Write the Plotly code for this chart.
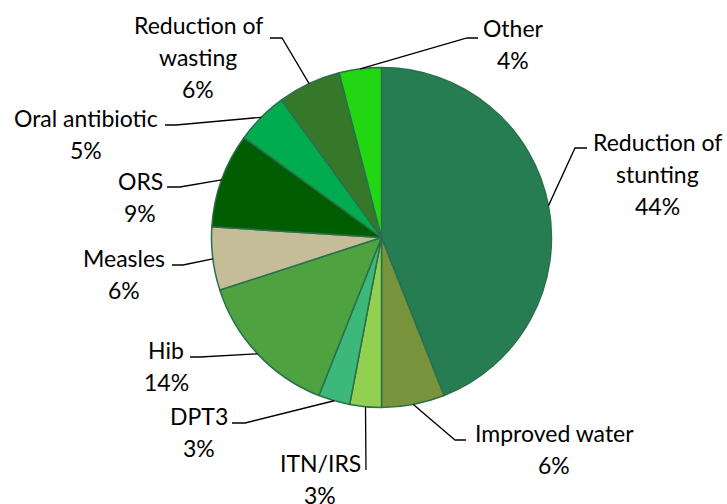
import math
import plotly.graph_objects as go

# Share of deaths averted by intervention (%)
categories = ["Reduction of stunting", "Improved water", "ITN/IRS", "DPT3", "Hib",
              "Measles", "ORS", "Oral antibiotic", "Reduction of wasting", "Other"]
values = [44, 6, 3, 3, 14, 6, 9, 5, 6, 4]
label_lines = [["Reduction of", "stunting"], ["Improved water"], ["ITN/IRS"], ["DPT3"], ["Hib"],
               ["Measles"], ["ORS"], ["Oral antibiotic"], ["Reduction of", "wasting"], ["Other"]]
colors = ["#267D52", "#77933C", "#92D050", "#3CB97A", "#4EA23F",
          "#C4BD97", "#005E00", "#00AC4E", "#36782A", "#22D711"]

W, H = 727, 504
CX, CY, R = 381.5, 237.5, 170.0

# Label placement (pixels): text centre x, first-line centre y, leader elbow, leader end
label_layout = {
    "Reduction of stunting": dict(tx=657, ty=142, elbow=(575, 148), end=(587, 148)),
    "Improved water":        dict(tx=554, ty=433, elbow=(455, 440), end=(466, 440)),
    "ITN/IRS":               dict(tx=320, ty=463, elbow=(366, 470), end=(366, 470)),
    "DPT3":                  dict(tx=199, ty=416, elbow=(245, 423), end=(232, 423)),
    "Hib":                   dict(tx=166, ty=350, elbow=(200, 357), end=(190, 357)),
    "Measles":               dict(tx=124, ty=258, elbow=(183, 265), end=(172, 265)),
    "ORS":                   dict(tx=140, ty=181, elbow=(180, 187), end=(167, 187)),
    "Oral antibiotic":       dict(tx=86, ty=118, elbow=(176, 125), end=(165, 125)),
    "Reduction of wasting":  dict(tx=198, ty=25, elbow=(282, 38), end=(270, 38)),
    "Other":                 dict(tx=513, ty=28, elbow=(467, 38), end=(478, 38)),
}

LINE_STEP = 32
FONT = dict(family="Lato, 'Open Sans', sans-serif", size=23, color="#000000")


def px(x, y):
    return x / W, 1 - y / H


fig = go.Figure(go.Pie(
    labels=categories,
    values=values,
    sort=False,
    direction="clockwise",
    rotation=0,
    marker=dict(colors=colors, line=dict(color="#2B6F4D", width=1.5)),
    textinfo="none",
    hoverinfo="label+percent",
    showlegend=False,
    domain=dict(x=[(CX - R) / W, (CX + R) / W], y=[1 - (CY + R) / H, 1 - (CY - R) / H]),
))

total = sum(values)
cum = 0
shapes, annotations = [], []
for name, v, lines in zip(categories, values, label_lines):
    mid = (cum + v / 2) / total * 2 * math.pi
    cum += v
    ax, ay = CX + R * math.sin(mid), CY - R * math.cos(mid)
    lay = label_layout[name]
    pts = [px(ax, ay), px(*lay["elbow"]), px(*lay["end"])]
    path = "M {} {} L {} {} L {} {}".format(*[c for p in pts for c in p])
    shapes.append(dict(type="path", path=path, xref="paper", yref="paper",
                       line=dict(color="#000000", width=1.3)))
    text_lines = lines + [f"{round(v / total * 100)}%"]
    for i, t in enumerate(text_lines):
        x, y = px(lay["tx"], lay["ty"] + i * LINE_STEP)
        annotations.append(dict(text=t, x=x, y=y, xref="paper", yref="paper",
                                xanchor="center", yanchor="middle", showarrow=False,
                                font=FONT))

fig.update_layout(
    width=W, height=H,
    margin=dict(l=0, r=0, t=0, b=0),
    paper_bgcolor="#FFFFFF",
    plot_bgcolor="#FFFFFF",
    shapes=shapes,
    annotations=annotations,
)

fig.write_html("out.html")
